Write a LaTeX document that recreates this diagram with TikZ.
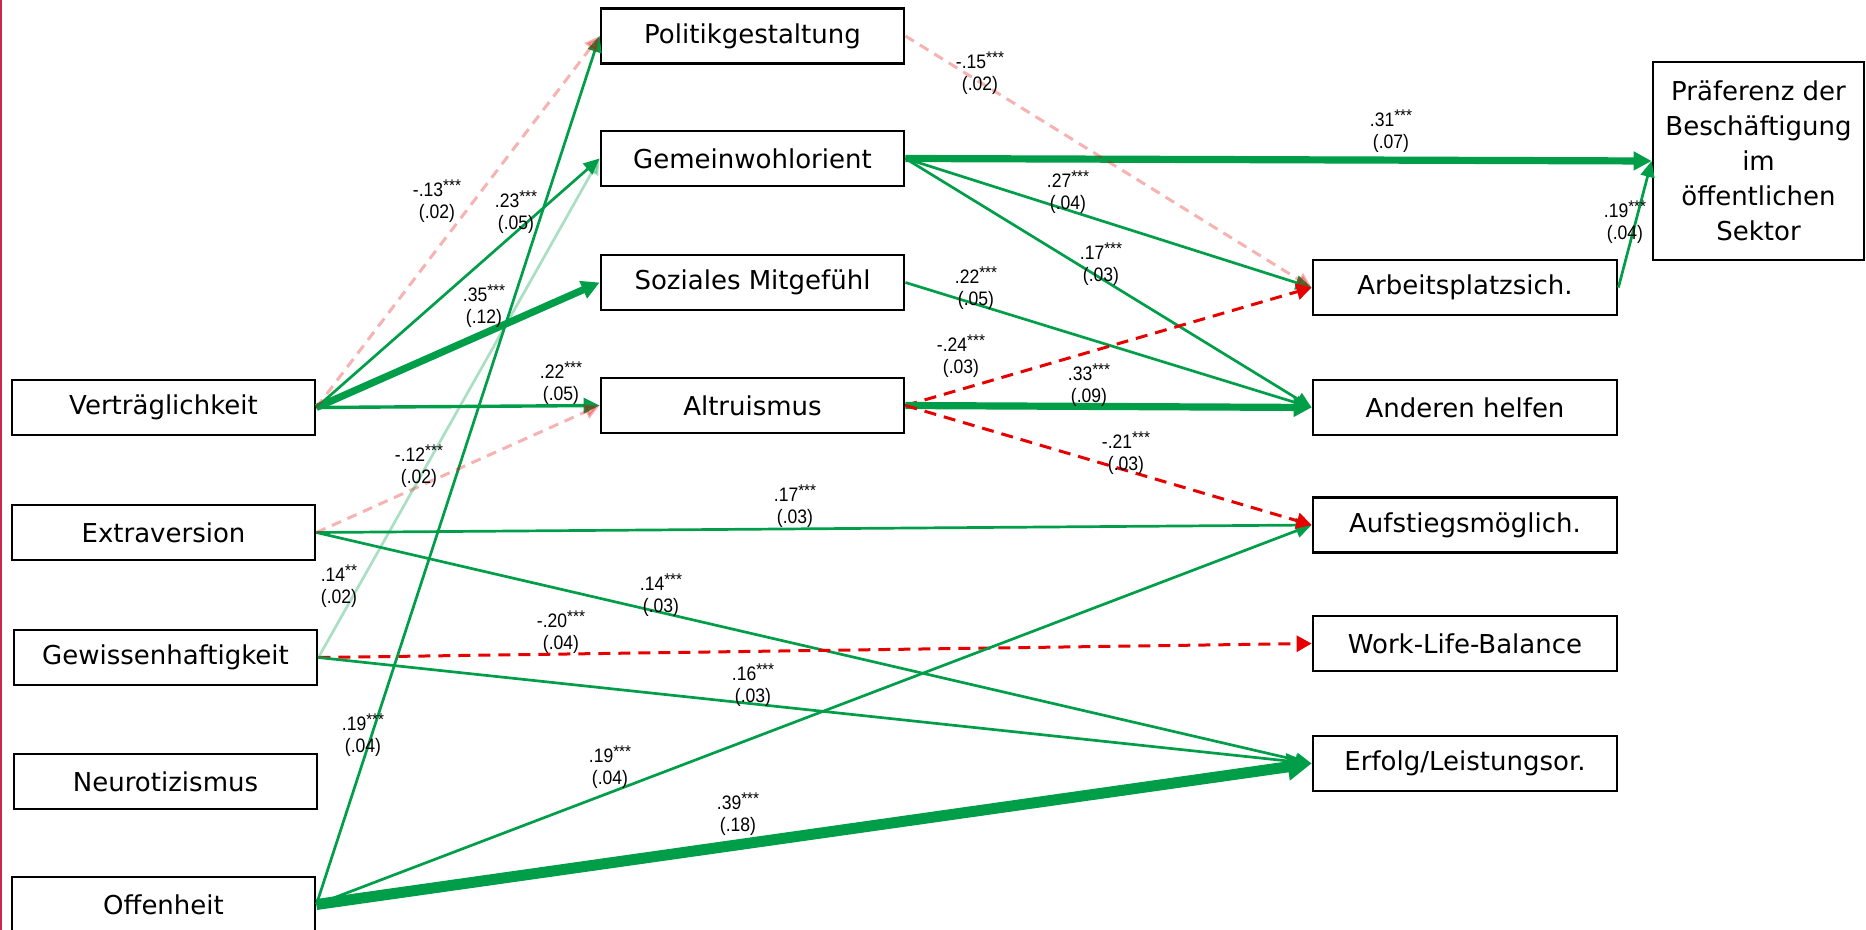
\documentclass[tikz,border=0pt]{standalone}
\usepackage{fontspec}
\setmainfont{DejaVu Sans}
\newfontfamily\labelfont[FakeStretch=0.9]{Liberation Sans}
\usetikzlibrary{arrows.meta}

\definecolor{pathgreen}{RGB}{0,158,73}
\definecolor{negred}{RGB}{230,0,0}
\definecolor{edgecrimson}{RGB}{200,40,80}

% path coefficient: estimate, significance stars, standard error
\newcommand{\coef}[3]{#1\raisebox{0.5ex}{\fontsize{8.5}{8.5}\selectfont #2}\\(#3)}

\begin{document}
\begin{tikzpicture}[x=0.5pt, y=-0.5pt,
  box/.style={draw=black, line width=1.4pt, inner sep=0pt,
    minimum width=151.5pt, minimum height=27.5pt,
    font=\fontsize{13}{15}\selectfont},
  rbox/.style={box, minimum width=152pt},
  coefl/.style={font=\labelfont\fontsize{9.75}{11}\selectfont,
    align=center, inner sep=0pt, text=black},
  gpath/.style={pathgreen, line width=1.35pt,
    -{Triangle[length=8pt,width=7pt]}},
  gpathmid/.style={pathgreen, line width=1.7pt,
    -{Triangle[length=8pt,width=7.5pt]}},
  gpaththick/.style={pathgreen, line width=3.6pt,
    -{Triangle[length=9pt,width=9pt]}},
  gpathheavy/.style={pathgreen, line width=5.5pt,
    -{Triangle[length=12pt,width=13pt]}},
  gfaint/.style={pathgreen, opacity=0.33, line width=1.35pt,
    -{Triangle[length=8pt,width=7pt]}},
  rpath/.style={negred, line width=1.5pt, dash pattern=on 6pt off 4pt,
    -{Triangle[length=7.5pt,width=8pt]}},
  rfaint/.style={negred, opacity=0.3, line width=1.5pt,
    dash pattern=on 5pt off 3.5pt,
    -{Triangle[length=7.5pt,width=7.5pt]}},
]
\useasboundingbox (0,0) rectangle (1866,930);

% slide border on the left
\draw[edgecrimson, line width=1pt] (1,0) -- (1,930);

% personality traits
\node[box] (V) at (163.5,407.5) {Verträglichkeit};
\node[box] (E) at (163.5,532.5) {Extraversion};
\node[box] (G) at (165.5,657.5) {Gewissenhaftigkeit};
\node[box] (N) at (165.5,781.5) {Neurotizismus};
\node[box] (O) at (163.5,904.5) {Offenheit};

% public service motivation dimensions
\node[box] (Pol) at (752.5,36) {Politikgestaltung};
\node[box] (GW) at (752.5,158.5) {Gemeinwohlorient};
\node[box] (SM) at (752.5,282.5) {Soziales Mitgefühl};
\node[box] (Alt) at (752.5,405.5) {Altruismus};

% job attributes
\node[rbox] (AS) at (1465,287.5) {Arbeitsplatzsich.};
\node[rbox] (AH) at (1465,407.5) {Anderen helfen};
\node[rbox] (AU) at (1465,525) {Aufstiegsmöglich.};
\node[rbox] (WL) at (1465,643.5) {Work-Life-Balance};
\node[rbox] (EL) at (1465,763.5) {Erfolg/Leistungsor.};

% outcome
\node[box, minimum width=105.5pt, minimum height=99pt, align=center,
  font=\fontsize{13}{17.5}\selectfont] (Pr) at (1758.5,161)
  {Präferenz der\\Beschäftigung\\im\\öffentlichen\\Sektor};

% paths from the traits
\draw[gpath] (V.east) -- (GW.west);
\draw[gpaththick] (V.east) -- (SM.west);
\draw[gpathmid] (V.east) -- (Alt.west);
\draw[gpath] (E.east) -- (AU.west);
\draw[gpath] (E.east) -- (EL.west);
\draw[rpath] (G.east) -- (WL.west);
\draw[gpath] (G.east) -- (EL.west);
\draw[gpath] (O.east) -- (Pol.west);
\draw[gpath] (O.east) -- (AU.west);
\draw[gpathheavy] (O.east) -- (EL.west);

% paths from the motivation dimensions
\draw[gpaththick] (GW.east) -- (Pr.west);
\draw[gpath] (GW.east) -- (AS.west);
\draw[gpath] (GW.east) -- (AH.west);
\draw[gpath] (SM.east) -- (AH.west);
\draw[rpath] (Alt.east) -- (AS.west);
\draw[gpaththick] (Alt.east) -- (AH.west);
\draw[rpath] (Alt.east) -- (AU.west);
\draw[gpath] (AS.east) -- (Pr.west);

% translucent paths, laid over the others
\draw[rfaint] (V.east) -- (Pol.west);
\draw[rfaint] (E.east) -- (Alt.west);
\draw[rfaint] (Pol.east) -- (AS.west);
\draw[gfaint] (G.east) -- (GW.west);

% coefficients
\node[coefl] (c1) at (437,201) {\coef{-.13}{***}{.02}};
\node[coefl] (c2) at (516,212) {\coef{.23}{***}{.05}};
\node[coefl] (c3) at (484,306) {\coef{.35}{***}{.12}};
\node[coefl] (c4) at (561,383) {\coef{.22}{***}{.05}};
\node[coefl] (c5) at (419,466) {\coef{-.12}{***}{.02}};
\node[coefl] (c6) at (795,506) {\coef{.17}{***}{.03}};
\node[coefl] (c7) at (661,595) {\coef{.14}{***}{.03}};
\node[coefl] (c8) at (339,586) {\coef{.14}{**}{.02}};
\node[coefl] (c9) at (561,632) {\coef{-.20}{***}{.04}};
\node[coefl] (c10) at (753,685) {\coef{.16}{***}{.03}};
\node[coefl] (c11) at (363,735) {\coef{.19}{***}{.04}};
\node[coefl] (c12) at (610,767) {\coef{.19}{***}{.04}};
\node[coefl] (c13) at (738,814) {\coef{.39}{***}{.18}};
\node[coefl] (c14) at (980,73) {\coef{-.15}{***}{.02}};
\node[coefl] (c15) at (1391,131) {\coef{.31}{***}{.07}};
\node[coefl] (c16) at (1068,192) {\coef{.27}{***}{.04}};
\node[coefl] (c17) at (1101,264) {\coef{.17}{***}{.03}};
\node[coefl] (c18) at (976,288) {\coef{.22}{***}{.05}};
\node[coefl] (c19) at (961,356) {\coef{-.24}{***}{.03}};
\node[coefl] (c20) at (1089,385) {\coef{.33}{***}{.09}};
\node[coefl] (c21) at (1126,453) {\coef{-.21}{***}{.03}};
\node[coefl] (c22) at (1625,222) {\coef{.19}{***}{.04}};
\end{tikzpicture}
\end{document}
